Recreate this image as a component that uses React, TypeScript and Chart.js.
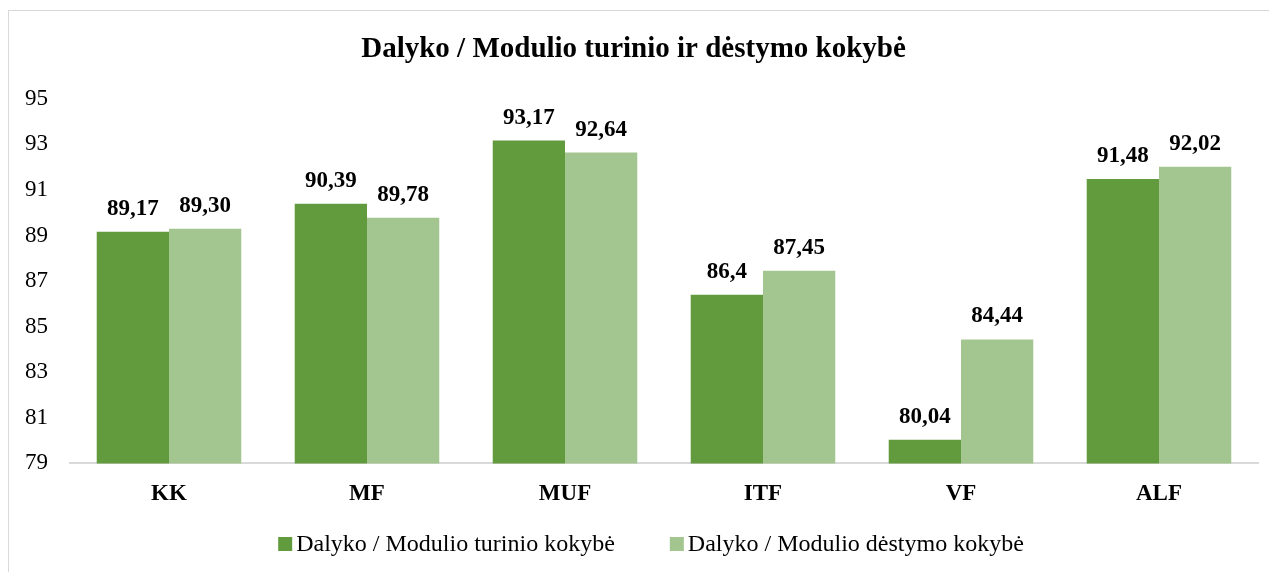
import React, { useEffect, useRef } from "react";
import { Chart, registerables } from "chart.js";

Chart.register(...registerables);

const categories = ["KK", "MF", "MUF", "ITF", "VF", "ALF"];
const turinioValues = [89.17, 90.39, 93.17, 86.4, 80.04, 91.48];
const destymoValues = [89.3, 89.78, 92.64, 87.45, 84.44, 92.02];
const turinioLabels = ["89,17", "90,39", "93,17", "86,4", "80,04", "91,48"];
const destymoLabels = ["89,30", "89,78", "92,64", "87,45", "84,44", "92,02"];
const seriesNames = [
  "Dalyko / Modulio turinio kokybė",
  "Dalyko / Modulio dėstymo kokybė",
];
const seriesColors = ["#629A3E", "#A3C590"];
const yMin = 79;
const yMax = 95;
const yStep = 2;

const FONT = "'Liberation Serif', 'Times New Roman', serif";

const valueLabelPlugin = {
  id: "valueLabels",
  afterDatasetsDraw(chart: any) {
    const ctx = chart.ctx;
    const texts = [turinioLabels, destymoLabels];
    ctx.save();
    ctx.font = `bold 23px ${FONT}`;
    ctx.fillStyle = "#000";
    ctx.textAlign = "center";
    ctx.textBaseline = "alphabetic";
    chart.data.datasets.forEach((_: any, di: number) => {
      const meta = chart.getDatasetMeta(di);
      meta.data.forEach((el: any, i: number) => {
        ctx.fillText(texts[di][i], el.x, el.y - 17);
      });
    });
    ctx.restore();
  },
};

const customLegendPlugin = {
  id: "customLegend",
  afterDraw(chart: any) {
    const ctx = chart.ctx;
    ctx.save();
    ctx.font = `24px ${FONT}`;
    ctx.textBaseline = "alphabetic";
    ctx.textAlign = "left";
    const box = 14;
    const gapBoxText = 4;
    const gapItems = 55;
    const items = chart.data.datasets.map((ds: any) => ({
      text: ds.label,
      color: ds.backgroundColor,
      w: ctx.measureText(ds.label).width,
    }));
    let total = 0;
    items.forEach((it: any, i: number) => {
      total += box + gapBoxText + it.w + (i < items.length - 1 ? gapItems : 0);
    });
    let x = chart.width / 2 + 8 - total / 2;
    const baseline = chart.height - 21;
    items.forEach((it: any) => {
      ctx.fillStyle = it.color;
      ctx.fillRect(x, baseline - box, box, box);
      x += box + gapBoxText;
      ctx.fillStyle = "#000";
      ctx.fillText(it.text, x, baseline);
      x += it.w + gapItems;
    });
    ctx.restore();
  },
};

export default function App() {
  const canvasRef = useRef<HTMLCanvasElement | null>(null);

  useEffect(() => {
    document.body.style.overflow = "hidden";
    const chart = new Chart(canvasRef.current as HTMLCanvasElement, {
      type: "bar",
      data: {
        labels: categories,
        datasets: [
          {
            label: seriesNames[0],
            data: turinioValues,
            backgroundColor: seriesColors[0],
            categoryPercentage: 0.73,
            barPercentage: 1.0,
          },
          {
            label: seriesNames[1],
            data: destymoValues,
            backgroundColor: seriesColors[1],
            categoryPercentage: 0.73,
            barPercentage: 1.0,
          },
        ],
      },
      options: {
        animation: false,
        responsive: false,
        maintainAspectRatio: false,
        layout: { padding: { left: 0, right: 19, top: 0, bottom: 47 } },
        plugins: {
          title: {
            display: true,
            text: "Dalyko / Modulio turinio ir dėstymo kokybė",
            color: "#000",
            font: { family: FONT, size: 29, weight: "bold" },
            padding: { top: 21, bottom: 32 },
          },
          legend: { display: false },
          tooltip: { enabled: false },
        },
        scales: {
          x: {
            grid: { display: false, drawTicks: false },
            border: { display: true, color: "#d9d9d9", width: 2 },
            ticks: {
              color: "#000",
              font: { family: FONT, size: 23, weight: "bold" },
              padding: 17,
            },
          },
          y: {
            min: yMin,
            max: yMax,
            grid: { display: false, drawTicks: false },
            border: { display: false },
            ticks: {
              stepSize: yStep,
              color: "#000",
              font: { family: FONT, size: 23 },
              padding: 22,
            },
            afterFit(scale: any) {
              scale.width = 61;
            },
          },
        },
      },
      plugins: [valueLabelPlugin, customLegendPlugin],
    });
    return () => chart.destroy();
  }, []);

  return (
    <div
      style={{
        marginTop: 2,
        borderLeft: "1px solid #d9d9d9",
        borderTop: "1px solid #d9d9d9",
        width: 1268,
        height: 561,
        overflow: "hidden",
      }}
    >
      <canvas ref={canvasRef} width={1268} height={561} style={{ display: "block" }} />
    </div>
  );
}
